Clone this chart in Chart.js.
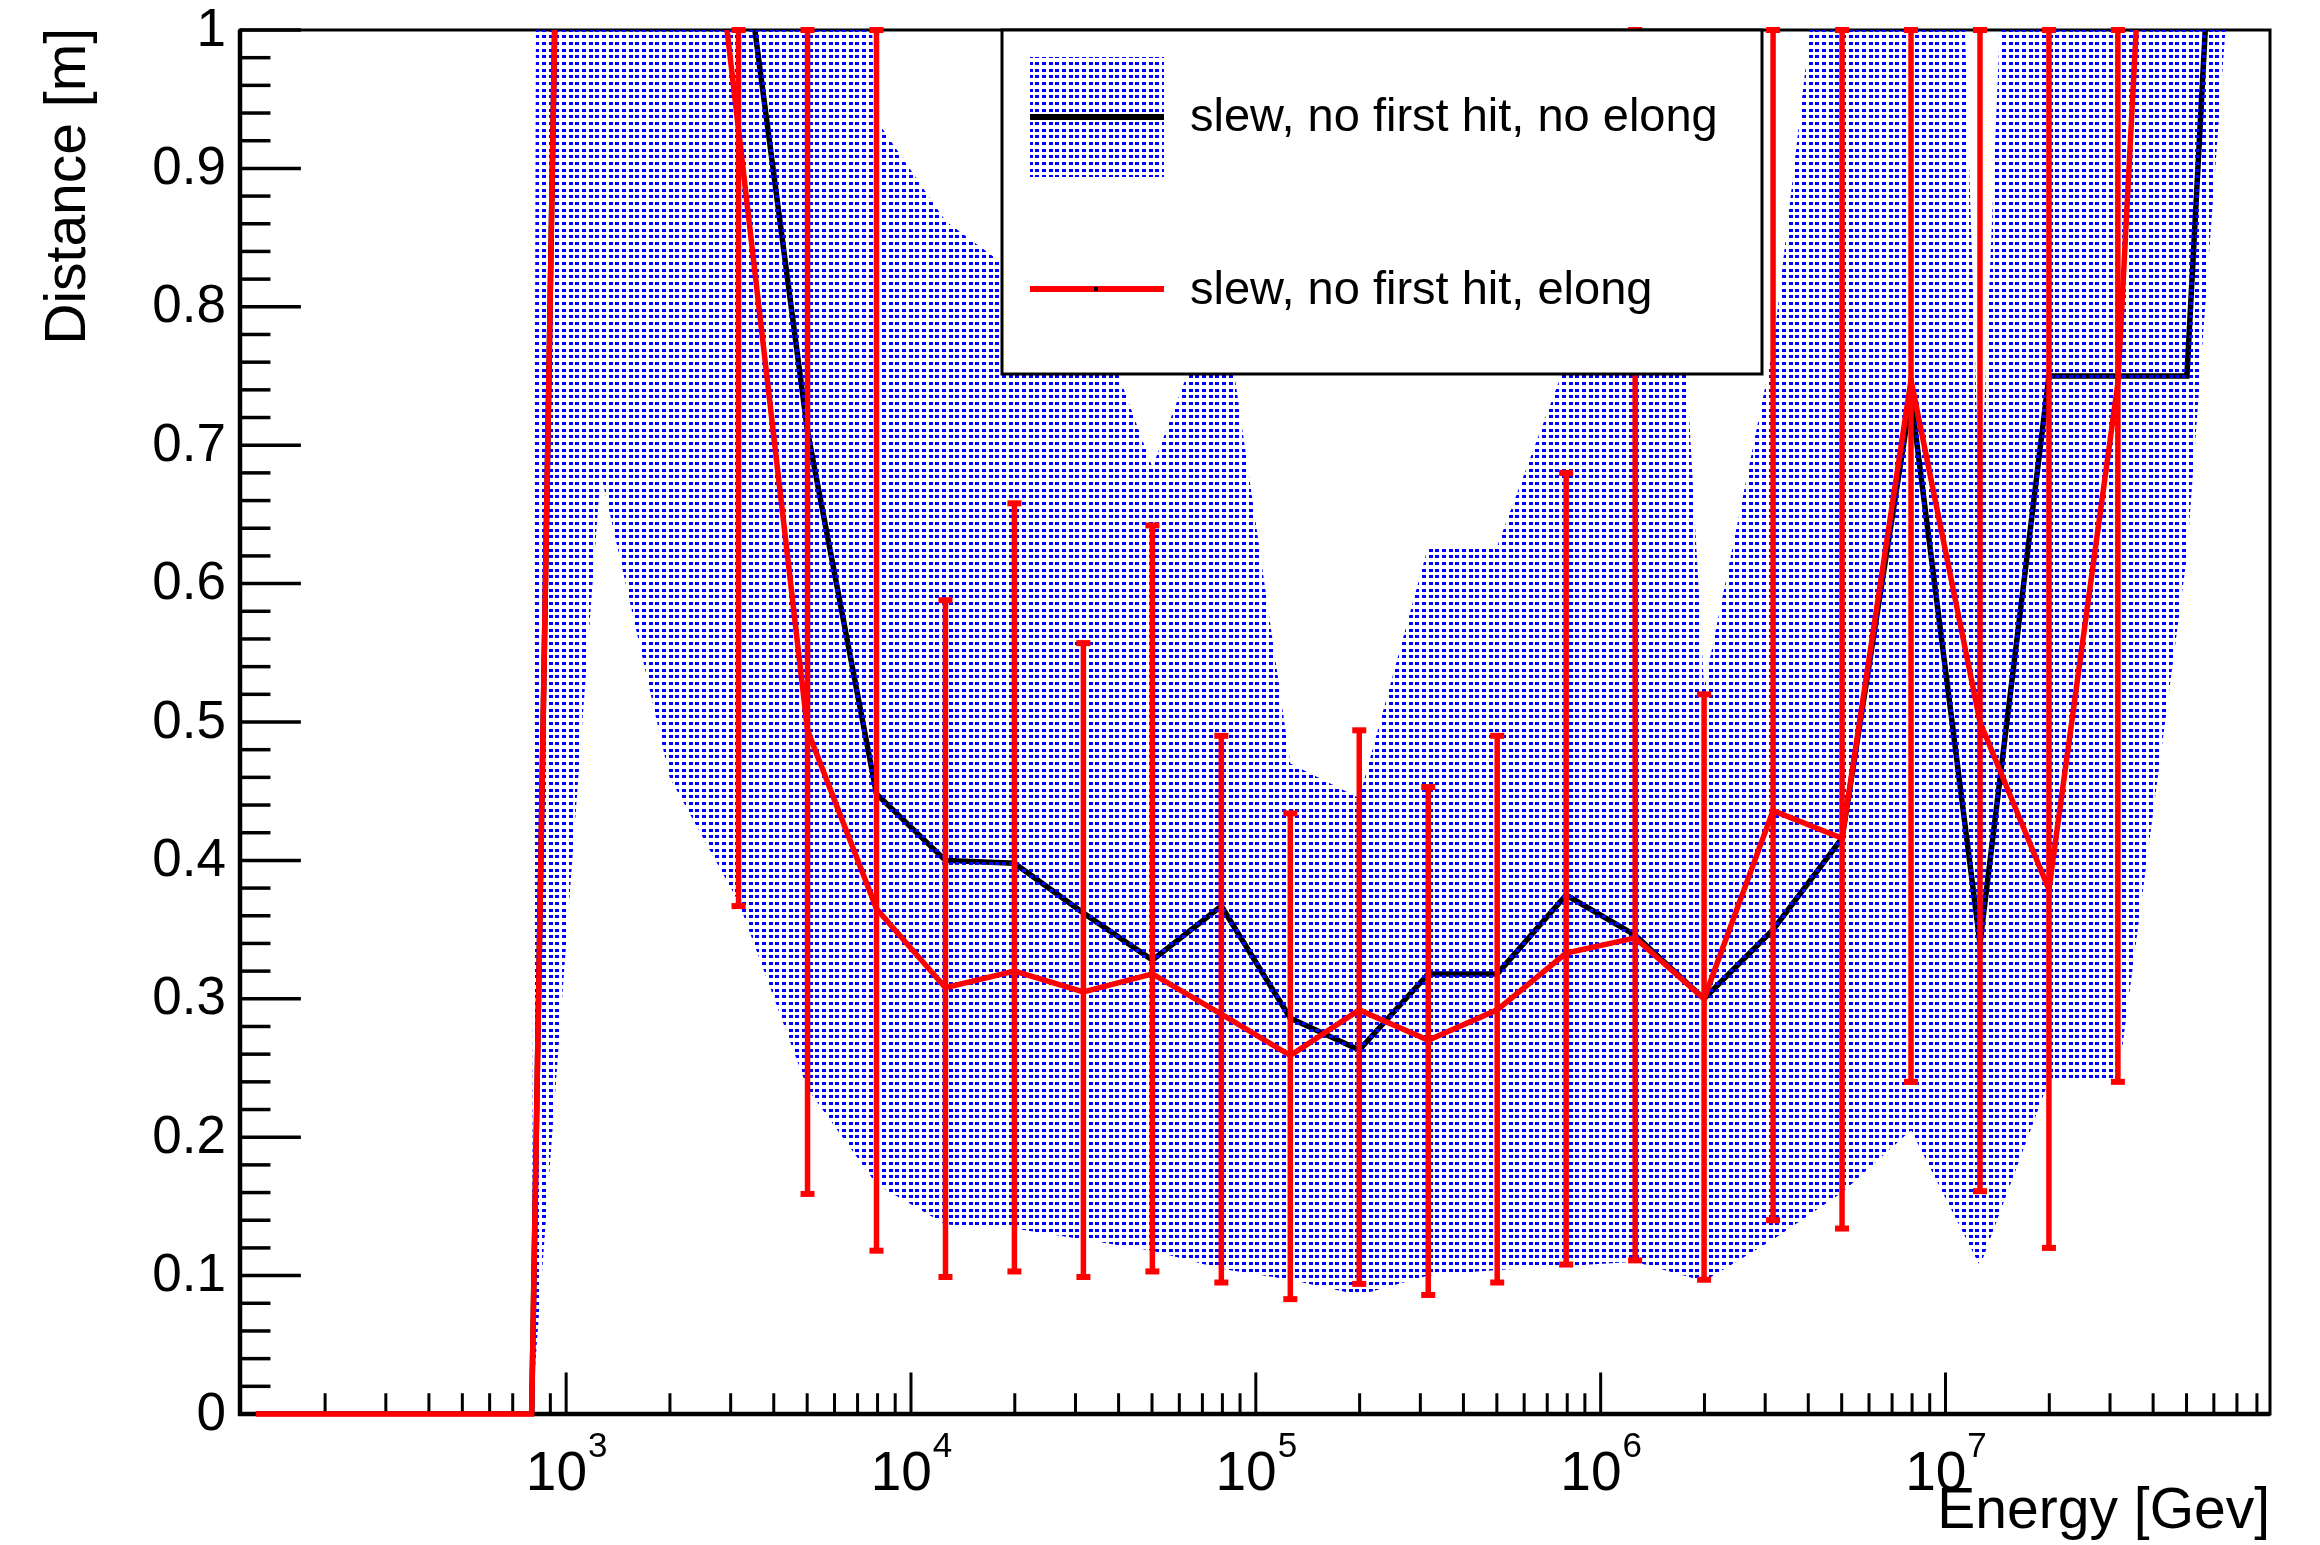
<!DOCTYPE html>
<html>
<head>
<meta charset="utf-8">
<style>
  html, body { margin: 0; padding: 0; background: #ffffff; }
  canvas { display: block; }
</style>
<script src="https://cdn.jsdelivr.net/npm/chart.js@4.4.0/dist/chart.umd.min.js"></script>
</head>
<body>
<canvas id="chart" width="2320" height="1545"></canvas>
<script>
// ---------------- data ----------------
const energies = [125.9, 199.5, 316.2, 501.2, 794.3, 1259, 1995, 3162, 5012, 7943,
  12590, 19950, 31620, 50120, 79430, 125900, 199500, 316200, 501200, 794300,
  1259000, 1995000, 3162000, 5012000, 7943000, 12590000, 19950000, 31620000, 50120000, 79430000];

// black curve: "slew, no first hit, no elong" and its dotted band
const blackValues = [0, 0, 0, 0, 0, 3.0, 2.0, 1.09, 0.71, 0.448,
  0.400, 0.398, 0.362, 0.328, 0.367, 0.286, 0.263, 0.318, 0.318, 0.375,
  0.346, 0.300, 0.350, 0.416, 0.735, 0.340, 0.750, 0.750, 0.750, 1.69];
const blackBandLow = [0, 0, 0, 0, 0, 0.68, 0.46, 0.37, 0.235, 0.166,
  0.137, 0.134, 0.126, 0.118, 0.105, 0.097, 0.086, 0.100, 0.104, 0.107,
  0.110, 0.096, 0.126, 0.160, 0.205, 0.107, 0.241, 0.241, 0.62, 1.30];
const blackBandHigh = [0, 0, 0, 0, 0, 16, 10, 5, 1.94, 0.935,
  0.862, 0.825, 0.82, 0.684, 0.817, 0.47, 0.445, 0.627, 0.627, 0.76,
  1.43, 0.525, 0.77, 1.2, 2.25, 0.65, 1.87, 3, 4, 5];

// red curve: "slew, no first hit, elong" with asymmetric error bars
const redValues = [0, 0, 0, 0, 0, 3.0, 1.36, 0.928, 0.494, 0.365,
  0.308, 0.320, 0.305, 0.318, 0.289, 0.259, 0.292, 0.270, 0.292, 0.333,
  0.344, 0.300, 0.436, 0.416, 0.747, 0.500, 0.379, 0.745, 1.71, 1.5];
const redErrLow = [null, null, null, null, null, null, null, 0.367, 0.159, 0.118,
  0.099, 0.103, 0.099, 0.103, 0.095, 0.083, 0.094, 0.086, 0.095, 0.108,
  0.111, 0.097, 0.140, 0.134, 0.240, 0.161, 0.120, 0.240, null, null];
const redErrHigh = [null, null, null, null, null, null, null, 1.3, 1.2, 1.1,
  0.588, 0.658, 0.557, 0.642, 0.490, 0.434, 0.494, 0.453, 0.490, 0.680,
  1.1, 0.520, 1.1, 1.1, 1.2, 1.1, 1.1, 1.2, null, null];

const seriesNames = ['slew, no first hit, no elong', 'slew, no first hit, elong'];
const yTickLabels = ['0', '0.1', '0.2', '0.3', '0.4', '0.5', '0.6', '0.7', '0.8', '0.9', '1'];
const yTickValues = [0, 0.1, 0.2, 0.3, 0.4, 0.5, 0.6, 0.7, 0.8, 0.9, 1];
const xDecadeExponents = ['3', '4', '5', '6', '7'];
const xDecadeValues = [1e3, 1e4, 1e5, 1e6, 1e7];
const xTitle = 'Energy [Gev]';
const yTitle = 'Distance [m]';
const xRange = [113.3, 8.73e7];
const yRange = [0, 1];

// ---------------- styling ----------------
const FONT = "'Liberation Sans', Arial, Helvetica, sans-serif";
const RED = '#ff0000';
const BLUE = '#0000ff';

function makeDotPattern() {
  const t = document.createElement('canvas');
  t.width = 20; t.height = 20;
  const g = t.getContext('2d');
  g.fillStyle = BLUE;
  const offs = [0, 7, 13];
  offs.forEach(px => offs.forEach(py => g.fillRect(px + 2, py + 2, 4, 3)));
  const main = document.getElementById('chart').getContext('2d');
  return main.createPattern(t, 'repeat');
}
const dotPattern = makeDotPattern();

const pts = arr => energies.map((e, i) => ({ x: e, y: arr[i] }));

// ---------------- custom drawing plugins ----------------
const axesPlugin = {
  id: 'rootAxes',
  beforeDatasetsDraw(chart) {
    const { ctx, chartArea: a, scales: { x, y } } = chart;
    ctx.save();
    ctx.strokeStyle = '#000';
    // frame
    ctx.lineWidth = 3;
    ctx.strokeRect(a.left, a.top, a.right - a.left, a.bottom - a.top);
    // axis lines
    ctx.lineWidth = 4.5;
    ctx.beginPath();
    ctx.moveTo(a.left, a.top); ctx.lineTo(a.left, a.bottom + 2);
    ctx.moveTo(a.left - 2, a.bottom); ctx.lineTo(a.right, a.bottom);
    ctx.stroke();
    // y ticks
    const w = a.right - a.left, h = a.bottom - a.top;
    ctx.lineWidth = 3.5;
    for (let k = 0; k <= 50; k++) {
      const v = k * 0.02;
      const py = y.getPixelForValue(v);
      const len = (k % 5 === 0) ? 0.03 * w : 0.015 * w;
      ctx.beginPath(); ctx.moveTo(a.left, py); ctx.lineTo(a.left + len, py); ctx.stroke();
    }
    // x ticks
    ctx.lineWidth = 3;
    for (let n = 2; n <= 7; n++) {
      for (let m = 1; m <= 9; m++) {
        const v = m * Math.pow(10, n);
        if (v < xRange[0] || v > xRange[1]) continue;
        const px = x.getPixelForValue(v);
        const len = (m === 1) ? 0.03 * h : 0.015 * h;
        ctx.beginPath(); ctx.moveTo(px, a.bottom); ctx.lineTo(px, a.bottom - len); ctx.stroke();
      }
    }
    // y labels
    ctx.fillStyle = '#000';
    ctx.font = '53px ' + FONT;
    ctx.textAlign = 'right';
    ctx.textBaseline = 'middle';
    yTickValues.forEach((v, i) => ctx.fillText(yTickLabels[i], a.left - 14, y.getPixelForValue(v) + 1));
    // x labels 10^n
    ctx.textBaseline = 'alphabetic';
    ctx.textAlign = 'left';
    xDecadeValues.forEach((v, i) => {
      const px = x.getPixelForValue(v);
      ctx.font = '55px ' + FONT;
      const wb = ctx.measureText('10').width;
      ctx.font = '35px ' + FONT;
      const ws = ctx.measureText(xDecadeExponents[i]).width;
      const x0 = px - (wb + ws) / 2;
      ctx.font = '55px ' + FONT;
      ctx.fillText('10', x0, 1490);
      ctx.font = '35px ' + FONT;
      ctx.fillText(xDecadeExponents[i], x0 + wb + 1, 1457);
    });
    // titles
    ctx.font = '57px ' + FONT;
    ctx.textAlign = 'right';
    ctx.fillText(xTitle, a.right, 1528);
    ctx.save();
    ctx.translate(85, a.top - 2);
    ctx.rotate(-Math.PI / 2);
    ctx.textAlign = 'right';
    ctx.fillText(yTitle, 0, 0);
    ctx.restore();
    ctx.restore();
  }
};

const errorBarPlugin = {
  id: 'redErrors',
  afterDatasetsDraw(chart) {
    const { ctx, scales: { x, y } } = chart;
    ctx.save();
    ctx.strokeStyle = RED;
    ctx.fillStyle = RED;
    ctx.lineWidth = 5.5;
    const clamp = v => Math.max(yRange[0], Math.min(yRange[1], v));
    energies.forEach((e, i) => {
      if (redErrLow[i] === null || redErrHigh[i] === null) return;
      if (redValues[i] < yRange[0] || redValues[i] > yRange[1]) return;
      const px = x.getPixelForValue(e);
      const yLo = y.getPixelForValue(clamp(redErrLow[i]));
      const yHi = y.getPixelForValue(clamp(redErrHigh[i]));
      ctx.beginPath(); ctx.moveTo(px, yLo); ctx.lineTo(px, yHi); ctx.stroke();
      ctx.fillRect(px - 7, yLo - 3, 14, 6);
      ctx.fillRect(px - 7, yHi - 3, 14, 6);
    });
    ctx.restore();
  }
};

const legendPlugin = {
  id: 'rootLegend',
  afterDraw(chart) {
    const { ctx } = chart;
    const L = 1002, T = 30, R = 1762, B = 374;
    ctx.save();
    ctx.fillStyle = '#fff';
    ctx.fillRect(L, T, R - L, B - T);
    ctx.strokeStyle = '#000';
    ctx.lineWidth = 3;
    ctx.strokeRect(L, T, R - L, B - T);
    // entry 1: band + black line
    ctx.fillStyle = dotPattern;
    ctx.fillRect(1030, 57, 134, 120);
    ctx.strokeStyle = chart.data.datasets[3].borderColor;
    ctx.lineWidth = 6;
    ctx.beginPath(); ctx.moveTo(1030, 117); ctx.lineTo(1164, 117); ctx.stroke();
    // entry 2: red line + marker
    ctx.strokeStyle = chart.data.datasets[0].borderColor;
    ctx.beginPath(); ctx.moveTo(1030, 289); ctx.lineTo(1164, 289); ctx.stroke();
    ctx.fillStyle = '#000';
    ctx.fillRect(1094, 287, 4, 4);
    // texts
    ctx.fillStyle = '#000';
    ctx.font = '47px ' + FONT;
    ctx.textAlign = 'left';
    ctx.textBaseline = 'alphabetic';
    ctx.fillText(seriesNames[0], 1190, 131);
    ctx.fillText(seriesNames[1], 1190, 304);
    ctx.restore();
  }
};

new Chart(document.getElementById('chart'), {
  type: 'line',
  data: {
    datasets: [
      { label: seriesNames[1], data: pts(redValues), borderColor: RED, borderWidth: 5.5,
        pointRadius: 0, fill: false, tension: 0, order: 0,
        clip: { left: 0, top: 0, right: 0, bottom: 4 } },
      { label: 'band high', data: pts(blackBandHigh), borderColor: 'rgba(0,0,0,0)', borderWidth: 0,
        backgroundColor: dotPattern, pointRadius: 0, fill: '+1', tension: 0, order: 1, clip: 0 },
      { label: 'band low', data: pts(blackBandLow), borderColor: 'rgba(0,0,0,0)', borderWidth: 0,
        pointRadius: 0, fill: false, tension: 0, order: 1, clip: 0 },
      { label: seriesNames[0], data: pts(blackValues), borderColor: '#000000', borderWidth: 5.5,
        pointRadius: 0, fill: false, tension: 0, order: 2, clip: 0 }
    ]
  },
  options: {
    responsive: false,
    animation: false,
    devicePixelRatio: 1,
    layout: { padding: { left: 240, right: 50, top: 30, bottom: 131 } },
    scales: {
      x: { type: 'logarithmic', min: xRange[0], max: xRange[1], display: false },
      y: { type: 'linear', min: yRange[0], max: yRange[1], display: false }
    },
    plugins: { legend: { display: false }, tooltip: { enabled: false } },
    events: []
  },
  plugins: [axesPlugin, errorBarPlugin, legendPlugin]
});
</script>
</body>
</html>
